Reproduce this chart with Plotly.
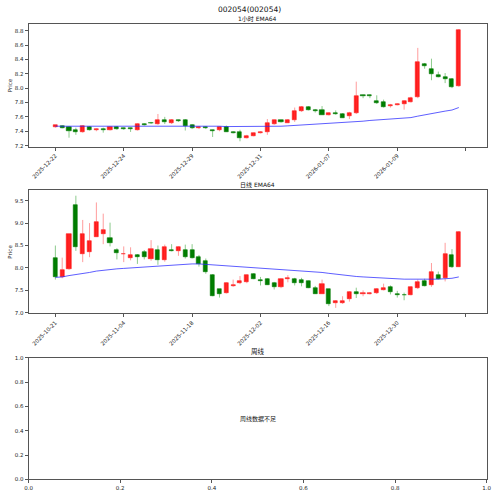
import plotly.graph_objects as go

# ---------------- 1-hour data (60 bars) ----------------
h_open = [7.46,7.47,7.46,7.41,7.39,7.46,7.42,7.43,7.42,7.46, 7.44,7.44,7.42,7.50,7.52,7.50,7.55,7.51,7.55,7.56,
          7.48,7.44,7.46,7.41,7.41,7.46,7.39,7.39,7.31,7.34, 7.37,7.39,7.50,7.55,7.52,7.55,7.68,7.73,7.69,7.70,
          7.63,7.66,7.64,7.61,7.65,7.90,7.90,7.82,7.80,7.75, 7.77,7.78,7.81,7.87,8.34,8.27,8.18,8.16,8.13,8.03]
h_close = [7.48,7.45,7.40,7.39,7.47,7.42,7.43,7.42,7.46,7.43, 7.43,7.43,7.50,7.49,7.51,7.56,7.53,7.56,7.54,7.47,
           7.44,7.46,7.45,7.40,7.46,7.39,7.38,7.31,7.34,7.37, 7.39,7.51,7.55,7.53,7.56,7.68,7.73,7.70,7.68,7.63,
           7.65,7.64,7.59,7.66,7.89,7.89,7.89,7.79,7.74,7.77, 7.78,7.82,7.86,8.37,8.31,8.19,8.16,8.12,8.01,8.81]
h_high = [7.48,7.48,7.47,7.45,7.48,7.47,7.44,7.45,7.47,7.47, 7.45,7.45,7.51,7.51,7.53,7.64,7.60,7.57,7.56,7.57,
          7.50,7.47,7.47,7.42,7.47,7.48,7.40,7.42,7.35,7.38, 7.40,7.57,7.56,7.56,7.57,7.73,7.75,7.75,7.71,7.75,
          7.66,7.69,7.65,7.67,8.09,7.91,7.91,7.90,7.84,7.78, 7.79,7.83,7.88,8.56,8.35,8.41,8.23,8.21,8.14,8.82]
h_low = [7.45,7.44,7.31,7.35,7.38,7.41,7.40,7.38,7.41,7.42, 7.42,7.39,7.41,7.48,7.50,7.49,7.50,7.50,7.53,7.41,
         7.43,7.43,7.43,7.32,7.40,7.39,7.37,7.26,7.30,7.33, 7.37,7.35,7.49,7.52,7.52,7.53,7.67,7.69,7.66,7.63,
         7.62,7.63,7.59,7.57,7.64,7.86,7.86,7.78,7.73,7.73, 7.76,7.70,7.80,7.86,8.27,8.11,8.15,8.07,8.00,8.02]
h_ema = [7.47,7.47,7.47,7.47,7.47,7.47,7.47,7.47,7.47,7.47, 7.47,7.47,7.47,7.475,7.475,7.48,7.48,7.48,7.48,7.48,
         7.475,7.475,7.47,7.47,7.47,7.465,7.465,7.46,7.46,7.46, 7.46,7.46,7.465,7.47,7.475,7.48,7.49,7.495,7.50,7.505,
         7.51,7.515,7.52,7.525,7.535,7.54,7.55,7.555,7.56,7.57, 7.575,7.58,7.59,7.61,7.63,7.65,7.665,7.68,7.695,7.73]
h_tick_labels = ["2025-12-22","2025-12-24","2025-12-29","2025-12-31","2026-01-07","2026-01-09",""]

# ---------------- daily data (60 bars) ----------------
d_open = [8.23,7.80,7.97,9.41,8.32,8.36,8.70,8.75,8.67,8.39, 8.30,8.22,8.28,8.36,8.20,8.40,8.17,8.40,8.37,8.40,
          8.41,8.24,8.16,7.85,7.52,7.45,7.60,7.66,7.68,7.87, 7.73,7.76,7.67,7.57,7.76,7.75,7.73,7.71,7.55,7.43,
          7.52,7.21,7.21,7.31,7.47,7.42,7.42,7.44,7.51,7.58, 7.42,7.40,7.40,7.56,7.70,7.61,7.84,7.78,8.28,8.03]
d_close = [7.79,7.95,8.75,8.47,8.75,8.59,9.02,8.84,8.55,8.34, 8.32,8.28,8.25,8.24,8.42,8.17,8.46,8.38,8.46,8.24,
           8.23,8.09,7.90,7.38,7.43,7.66,7.63,7.72,7.84,7.76, 7.72,7.63,7.58,7.76,7.77,7.66,7.66,7.56,7.43,7.65,
           7.19,7.27,7.27,7.46,7.41,7.44,7.45,7.52,7.55,7.46, 7.40,7.39,7.58,7.69,7.60,7.91,7.76,8.32,8.01,8.81]
d_high = [8.50,8.23,8.75,9.61,9.07,9.00,9.46,9.21,9.01,8.44, 8.48,8.46,8.31,8.40,8.62,8.50,8.52,8.53,8.48,8.52,
          8.53,8.29,8.21,7.86,7.53,7.68,7.74,7.82,7.85,7.88, 7.80,7.77,7.69,7.77,7.84,7.78,7.78,7.72,7.60,7.74,
          7.53,7.28,7.37,7.48,7.56,7.50,7.46,7.55,7.65,7.61, 7.49,7.45,7.59,7.74,7.76,8.11,7.92,8.56,8.42,8.82]
d_low = [7.74,7.77,7.96,8.38,8.13,8.24,8.69,8.53,8.48,8.19, 8.13,8.17,8.09,8.19,8.16,8.07,8.14,8.37,8.27,8.21,
         8.21,8.03,7.87,7.37,7.34,7.43,7.58,7.64,7.66,7.75, 7.61,7.62,7.52,7.55,7.68,7.61,7.59,7.55,7.42,7.42,
         7.15,7.11,7.20,7.25,7.33,7.37,7.41,7.42,7.50,7.41, 7.34,7.28,7.39,7.53,7.59,7.58,7.74,7.70,8.00,8.03]
d_ema = [7.79,7.80,7.83,7.85,7.88,7.90,7.93,7.95,7.97,7.98, 7.99,8.00,8.01,8.02,8.03,8.05,8.06,8.07,8.08,8.09,
         8.09,8.09,8.08,8.07,8.06,8.05,8.04,8.03,8.02,8.00, 7.99,7.98,7.97,7.96,7.95,7.94,7.93,7.92,7.91,7.90,
         7.88,7.86,7.84,7.82,7.81,7.80,7.79,7.78,7.78,7.77, 7.76,7.75,7.75,7.75,7.74,7.75,7.75,7.76,7.77,7.80]
d_tick_labels = ["2025-10-21","2025-11-04","2025-11-18","2025-12-02","2025-12-16","2025-12-30",""]

tick_step = 10
w_ticks = [0.0, 0.2, 0.4, 0.6, 0.8, 1.0]

UP_BODY, DN_BODY = "#ff1a1a", "#007a00"
UP_WICK, DN_WICK = "rgba(255,60,60,0.5)", "rgba(0,140,0,0.45)"
FONT = "DejaVu Sans, Noto Sans CJK SC"
AX_COLOR = "#555555"

fig = go.Figure()


def add_panel(o, h, l, c, ema, xa, ya):
    n = len(o)
    idx = list(range(n))
    for up, col in ((True, UP_WICK), (False, DN_WICK)):
        xs, ys = [], []
        for i in idx:
            if (c[i] >= o[i]) == up:
                xs += [i, i, None]
                ys += [l[i], h[i], None]
        fig.add_trace(go.Scatter(x=xs, y=ys, mode="lines", line=dict(color=col, width=1),
                                 hoverinfo="skip", showlegend=False, xaxis=xa, yaxis=ya))
    cols = [UP_BODY if c[i] >= o[i] else DN_BODY for i in idx]
    fig.add_trace(go.Bar(x=idx, y=[c[i] - o[i] for i in idx], base=o, width=0.6,
                         marker=dict(color=cols, line=dict(color=cols, width=0.6)),
                         showlegend=False, xaxis=xa, yaxis=ya))
    fig.add_trace(go.Scatter(x=idx, y=ema, mode="lines", line=dict(color="rgba(40,40,255,0.75)", width=1),
                             showlegend=False, xaxis=xa, yaxis=ya))


add_panel(h_open, h_high, h_low, h_close, h_ema, "x", "y")
add_panel(d_open, d_high, d_low, d_close, d_ema, "x2", "y2")
# empty weekly panel (placeholder trace so the axes are drawn)
fig.add_trace(go.Scatter(x=[], y=[], xaxis="x3", yaxis="y3", showlegend=False))

XDOM = [25 / 500, 491.5 / 500]


def ydom(top_px, bot_px):
    return [1 - bot_px / 496, 1 - top_px / 496]


axis_common = dict(showline=True, mirror=True, linecolor=AX_COLOR, linewidth=1,
                   ticks="outside", ticklen=3, tickcolor=AX_COLOR, tickwidth=1,
                   showgrid=False, zeroline=False,
                   tickfont=dict(size=5.5, family=FONT, color="#222"))

tv = list(range(0, len(h_open) + 1, tick_step))
fig.update_layout(
    width=500, height=496, margin=dict(l=0, r=0, t=0, b=0),
    paper_bgcolor="white", plot_bgcolor="white", bargap=0,
    xaxis=dict(domain=XDOM, anchor="y", range=[-3.92, 63.07], tickmode="array",
               tickvals=tv, ticktext=h_tick_labels, tickangle=-45, **axis_common),
    yaxis=dict(domain=ydom(21.3, 145.3), anchor="x", range=[7.187, 8.892],
               tickmode="array", tickvals=[7.2, 7.4, 7.6, 7.8, 8.0, 8.2, 8.4, 8.6, 8.8],
               tickformat=".1f", **axis_common),
    xaxis2=dict(domain=XDOM, anchor="y2", range=[-3.92, 63.07], tickmode="array",
                tickvals=tv, ticktext=d_tick_labels, tickangle=-45, **axis_common),
    yaxis2=dict(domain=ydom(189.3, 314.3), anchor="x2", range=[6.985, 9.737],
                tickmode="array", tickvals=[7.0, 7.5, 8.0, 8.5, 9.0, 9.5],
                tickformat=".1f", **axis_common),
    xaxis3=dict(domain=XDOM, anchor="y3", range=[0, 1], tickmode="array",
                tickvals=w_ticks, tickformat=".1f", **axis_common),
    yaxis3=dict(domain=ydom(359, 482.3), anchor="x3", range=[0, 1], tickmode="array",
                tickvals=w_ticks, tickformat=".1f", **axis_common),
)

ann = []
ann.append(dict(text="002054(002054)", x=0.5, y=1 - 7 / 496, xref="paper", yref="paper",
                showarrow=False, font=dict(size=7.5, family=FONT, color="#111"), xanchor="center", yanchor="middle"))
ann.append(dict(text="1小时 EMA64", x=(25 + 491.5) / 1000, y=1 - 16 / 496, xref="paper", yref="paper",
                showarrow=False, font=dict(size=6, family=FONT, color="#111"), xanchor="center", yanchor="middle"))
ann.append(dict(text="日线 EMA64", x=(25 + 491.5) / 1000, y=1 - 184.5 / 496, xref="paper", yref="paper",
                showarrow=False, font=dict(size=6, family=FONT, color="#111"), xanchor="center", yanchor="middle"))
ann.append(dict(text="周线", x=(25 + 491.5) / 1000, y=1 - 353 / 496, xref="paper", yref="paper",
                showarrow=False, font=dict(size=6.5, family=FONT, color="#111"), xanchor="center", yanchor="middle"))
ann.append(dict(text="周线数据不足", x=0.5, y=0.5, xref="x3", yref="y3",
                showarrow=False, font=dict(size=6, family=FONT, color="#111")))
for yc in ((21.3 + 145.3) / 2, (189.3 + 314.3) / 2):
    ann.append(dict(text="Price", x=6 / 500, y=1 - yc / 496, xref="paper", yref="paper", textangle=-90,
                    showarrow=False, font=dict(size=5.5, family=FONT, color="#222"),
                    xanchor="center", yanchor="middle"))
fig.update_layout(annotations=ann)

fig.write_html("out.html")
